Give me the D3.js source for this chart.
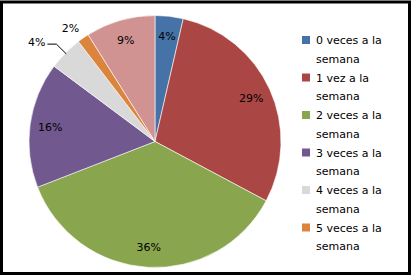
<!DOCTYPE html>
<html>
<head>
<meta charset="utf-8">
<script src="https://cdn.jsdelivr.net/npm/d3@7"></script>
<style>
  body { margin: 0; background: #fff; }
  svg { display: block; font-family: "DejaVu Sans", sans-serif; }
</style>
</head>
<body>
<svg width="412" height="276"></svg>
<script>
// ---- data ----
const categories = ["0 veces a la semana", "1 vez a la semana", "2 veces a la semana",
  "3 veces a la semana", "4 veces a la semana", "5 veces a la semana", "otro"];
const values = [3.6, 29.2, 36.3, 16.1, 4.4, 1.5, 8.9];
const labels = ["4%", "29%", "36%", "16%", "4%", "2%", "9%"];
const legendRows = [["0 veces a la", "semana"], ["1 vez a la", "semana"], ["2 veces a la", "semana"],
  ["3 veces a la", "semana"], ["4 veces a la", "semana"], ["5 veces a la", "semana"]];
const colors = ["#4572A7", "#AA4643", "#89A54E", "#71588F", "#D9D9D9", "#DB843D", "#D19392"];

const data = categories.map((c, i) => ({ cat: c, value: values[i], label: labels[i] }));

const width = 412, height = 276;
const cx = 155, cy = 141.5, r = 126;

const svg = d3.select("svg");

// frame
svg.append("rect")
  .attr("x", 1.5).attr("y", 2).attr("width", 408).attr("height", 271.5)
  .attr("fill", "none").attr("stroke", "#000").attr("stroke-width", 3);

const color = d3.scaleOrdinal().domain(categories).range(colors);

const pie = d3.pie().value(d => d.value).sort(null);
const arc = d3.arc().innerRadius(0).outerRadius(r);
const labelArc = d3.arc().innerRadius(r * 0.84).outerRadius(r * 0.84);

const g = svg.append("g").attr("transform", "translate(" + cx + "," + cy + ")");
const arcs = pie(data);

g.selectAll("path")
  .data(arcs)
  .enter()
  .append("path")
  .attr("d", arc)
  .attr("fill", d => color(d.data.cat))
  .attr("stroke", "#fff")
  .attr("stroke-width", 0.6);

// inside labels
const outside = [4, 5];
g.selectAll("text.in")
  .data(arcs.filter((d, i) => outside.indexOf(i) < 0))
  .enter()
  .append("text")
  .attr("class", "in")
  .attr("transform", d => "translate(" + labelArc.centroid(d) + ")")
  .attr("text-anchor", "middle")
  .attr("dy", "0.35em")
  .attr("font-size", 11)
  .attr("fill", "#000")
  .text(d => d.data.label);

// 2% label (outside, no leader)
const a5 = arcs[5];
const mid5 = (a5.startAngle + a5.endAngle) / 2;
g.append("text")
  .attr("x", Math.sin(mid5) * r * 1.095 - 6)
  .attr("y", -Math.cos(mid5) * r * 1.095)
  .attr("text-anchor", "middle")
  .attr("dy", "0.35em")
  .attr("font-size", 11)
  .text(a5.data.label);

// 4% label with leader line
const a4 = arcs[4];
const mid4 = (a4.startAngle + a4.endAngle) / 2;
const p0 = [Math.sin(mid4) * r * 0.99, -Math.cos(mid4) * r * 0.99];
const p1 = [Math.sin(mid4) * r * 1.1, -Math.cos(mid4) * r * 1.1];
const p2 = [p1[0] - 9, p1[1]];
g.append("polyline")
  .attr("points", [p0, p1, p2].map(p => p.join(",")).join(" "))
  .attr("fill", "none")
  .attr("stroke", "#000")
  .attr("stroke-width", 1);
g.append("text")
  .attr("x", p2[0] - 2)
  .attr("y", p2[1] - 2)
  .attr("text-anchor", "end")
  .attr("dy", "0.35em")
  .attr("font-size", 11)
  .text(a4.data.label);

// legend (only first six entries fit)
const legend = svg.append("g").attr("transform", "translate(302,44)");
const item = legend.selectAll("g")
  .data(legendRows)
  .enter()
  .append("g")
  .attr("transform", (d, i) => "translate(0," + (i * 37.5) + ")");

item.append("rect")
  .attr("x", 0).attr("y", -8)
  .attr("width", 8).attr("height", 8)
  .attr("fill", (d, i) => colors[i]);

item.append("text")
  .attr("x", 14)
  .attr("font-size", 11)
  .attr("fill", "#000")
  .text(d => d[0]);

item.append("text")
  .attr("x", 14)
  .attr("y", 18.8)
  .attr("font-size", 11)
  .attr("fill", "#000")
  .text(d => d[1]);
</script>
</body>
</html>
